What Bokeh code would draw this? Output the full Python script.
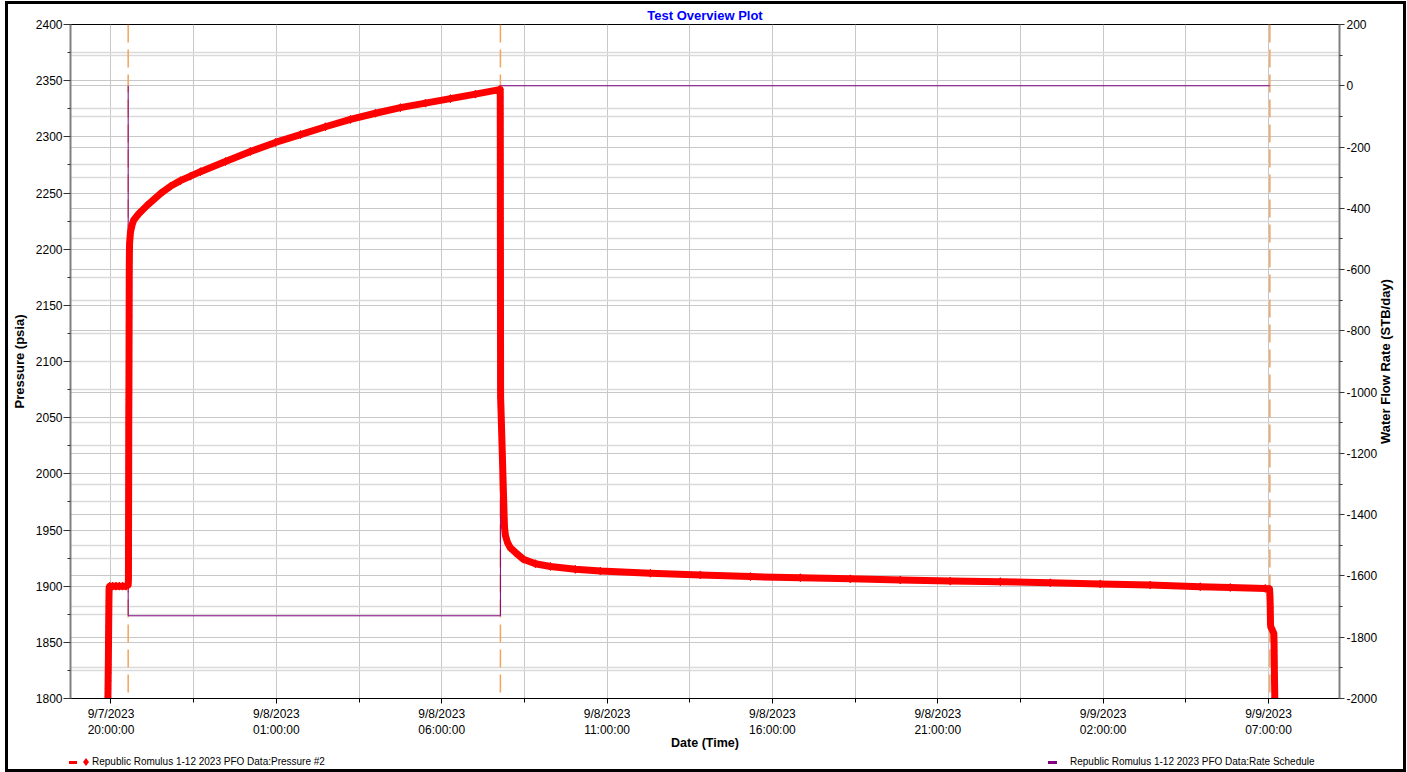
import math
from bokeh.plotting import figure
from bokeh.layouts import column
from bokeh.models import (Range1d, LinearAxis, FixedTicker, Grid, Span, Title,
                          ColumnDataSource, Div)
from bokeh.embed import file_html
from bokeh.resources import INLINE

# ---------------- data (time in hours from 9/7/2023 00:00) ----------------
# Pressure #2 (psia)
pressure_time_h = [
    # first rise
    19.905, 19.908, 19.911, 19.914, 19.917, 19.920, 19.922, 19.924, 19.926,
    19.928, 19.930, 19.932, 19.934, 19.936, 19.938, 19.940, 19.942, 19.945,
    # plateau at ~1900
    19.96, 20.05, 20.15, 20.25, 20.35, 20.45, 20.52,
    # shut-in rise
    20.528, 20.5285, 20.529, 20.5295, 20.530, 20.5305, 20.531, 20.5315, 20.532,
    20.5325, 20.533, 20.5335, 20.534, 20.5345, 20.535, 20.5355, 20.536, 20.5365,
    20.537, 20.5375, 20.538,
    20.539, 20.540, 20.541, 20.542, 20.543, 20.544, 20.545, 20.546, 20.547,
    20.548, 20.549, 20.550, 20.551, 20.552, 20.553, 20.555, 20.558, 20.562,
    # build-up
    20.589, 20.641, 20.689, 20.840, 21.094, 21.496, 21.799, 22.101, 22.403,
    22.706, 23.461, 24.217, 24.973, 25.729, 26.484, 27.240, 27.996, 28.752,
    29.508, 30.263, 31.019, 31.745,
    # drop at end of build-up
    31.770, 31.7703, 31.7706, 31.7709, 31.7712, 31.7715, 31.7718, 31.7721,
    31.7724, 31.7727, 31.7730, 31.7733, 31.7736, 31.7739, 31.7742, 31.7745,
    31.7748, 31.7751, 31.7754, 31.7757, 31.7760, 31.7763, 31.7766, 31.7769,
    31.7772, 31.7775, 31.7778, 31.7781, 31.7784, 31.7787, 31.7790, 31.7793,
    31.7796, 31.7799, 31.7802, 31.7805,
    31.79, 31.80, 31.81, 31.82, 31.83, 31.84, 31.85, 31.86, 31.87, 31.88,
    31.89, 31.90,
    # fall-off
    31.927, 31.987, 32.078, 32.229, 32.470, 32.833, 33.287, 34.042, 34.798,
    36.310, 37.821, 39.333, 40.844, 42.356, 43.867, 45.379, 46.890, 48.402,
    49.913, 51.425, 52.936, 53.843, 54.901, 55.030,
    # final drop
    55.040, 55.045, 55.050, 55.052, 55.054, 55.056, 55.058, 55.060, 55.070,
    55.100, 55.130, 55.160, 55.165, 55.168, 55.170, 55.172, 55.174, 55.176,
    55.178, 55.182, 55.186, 55.190, 55.195,
]
pressure_psia = [
    1795, 1802, 1809, 1816, 1823, 1830, 1837, 1844, 1851,
    1858, 1864, 1870, 1876, 1882, 1887, 1892, 1896, 1899,
    1900, 1900, 1900, 1900, 1900, 1900, 1901,
    1906, 1913, 1920, 1927, 1934, 1941, 1948, 1955, 1962,
    1969, 1976, 1983, 1990, 1997, 2005, 2013, 2021, 2029,
    2037, 2044, 2050,
    2055, 2060, 2066, 2072, 2080, 2090, 2100, 2110, 2120,
    2130, 2140, 2150, 2160, 2170, 2180, 2190, 2198, 2205,
    2215, 2222, 2226, 2231.5, 2239, 2249.5, 2256, 2261, 2265,
    2269, 2278, 2287, 2295, 2302, 2309, 2315.5, 2321, 2326,
    2330, 2334, 2338, 2342,
    2342, 2335, 2328, 2321, 2314, 2307, 2300, 2292,
    2284, 2276, 2268, 2260, 2252, 2244, 2236, 2228,
    2220, 2212, 2204, 2196, 2188, 2180, 2172, 2164,
    2156, 2148, 2140, 2132, 2124, 2116, 2108, 2100,
    2092, 2084, 2076, 2068,
    2060, 2050, 2040, 2030, 2020, 2010, 2000, 1990, 1980, 1970,
    1960, 1952,
    1945, 1939, 1934, 1930, 1924, 1920, 1917.5, 1915, 1913.5,
    1911.5, 1910, 1908.5, 1907.5, 1906.5, 1905.5, 1904.5, 1904, 1903,
    1902, 1901, 1899.5, 1898.8, 1898, 1897.5,
    1893, 1889, 1885, 1881, 1877, 1873, 1869, 1866, 1863.5,
    1862, 1860, 1858, 1853, 1848, 1843, 1838, 1833, 1828,
    1822, 1815, 1808, 1801, 1794,
]

# Rate schedule (STB/day)
rate_time_h = [20.52, 20.52, 31.775, 31.775, 55.04]
rate_stb_day = [0, -1730, -1730, 0, 0]

# event markers (dashed orange verticals)
event_time_h = [20.52, 31.775, 55.04]

x_tick_h = [20, 25, 30, 35, 40, 45, 50, 55]
x_tick_labels = ["9/7/2023\n20:00:00", "9/8/2023\n01:00:00", "9/8/2023\n06:00:00",
                 "9/8/2023\n11:00:00", "9/8/2023\n16:00:00", "9/8/2023\n21:00:00",
                 "9/9/2023\n02:00:00", "9/9/2023\n07:00:00"]
x_minor_h = [17.5, 22.5, 27.5, 32.5, 37.5, 42.5, 47.5, 52.5, 57.5]
p_ticks = list(range(1800, 2401, 50))
p_minor = list(range(1825, 2400, 50))
rate_ticks = list(range(-2000, 201, 200))
rate_tick_labels = ["-2000", "-1800", "-1600", "-1400", "-1200", "-1000",
                    "-800", "-600", "-400", "-200", "0", "200"]
rate_minor = list(range(-1900, 200, 200))

title_text = "Test Overview Plot"
p_label = "Pressure (psia)"
rate_label = "Water Flow Rate (STB/day)"
x_label = "Date (Time)"
p_series = "Republic Romulus 1-12 2023 PFO Data:Pressure #2"
rate_series = "Republic Romulus 1-12 2023 PFO Data:Rate Schedule"

FONT = "Liberation Sans"
RED = "#ff0000"
PURPLE = "#800080"
ORANGE = "#f2a35c"
GRID = "#c8c8c8"
GRID2 = "#dadada"

FRAME_W, FRAME_H = 1269, 674
RATE_LO, RATE_HI = -2000, 200

p = figure(frame_width=FRAME_W, frame_height=FRAME_H, output_backend="svg",
           toolbar_location=None,
           x_range=Range1d(18.776, 57.146), y_range=Range1d(1800, 2400),
           min_border_left=62, min_border_right=56, min_border_top=20,
           min_border_bottom=54,
           background_fill_color="white", border_fill_color="white",
           outline_line_color="black", outline_line_width=1)
p.title = Title(text=title_text, align="center", vertical_align="top",
                text_color="#0000ff", text_font=FONT, text_font_style="bold",
                text_font_size="13px", text_line_height=1.0, standoff=0, offset=0)
p.extra_y_ranges = {"rate": Range1d(RATE_LO, RATE_HI)}

x_ticker = FixedTicker(ticks=x_tick_h, minor_ticks=x_minor_h)
p_ticker = FixedTicker(ticks=p_ticks, minor_ticks=p_minor)
rate_ticker = FixedTicker(ticks=rate_ticks, minor_ticks=rate_minor)

# grids
p.xgrid.ticker = x_ticker
p.xgrid.grid_line_color = GRID
p.xgrid.minor_grid_line_color = GRID
p.ygrid.ticker = p_ticker
p.ygrid.grid_line_color = GRID
p.ygrid.minor_grid_line_color = GRID2
p.ygrid.minor_grid_line_width = 1.5
rgrid = Grid(dimension=1, ticker=rate_ticker, y_range_name="rate",
             grid_line_color=GRID, minor_grid_line_color=GRID2,
             minor_grid_line_width=1.5)
p.add_layout(rgrid)

# bottom axis
xa = p.xaxis[0]
xa.ticker = x_ticker
xa.major_label_overrides = {t: lab for t, lab in zip(x_tick_h, x_tick_labels)}
xa.axis_label = x_label
xa.axis_label_text_font = FONT
xa.axis_label_text_font_style = "bold"
xa.axis_label_text_font_size = "12.5px"
xa.axis_label_text_color = "black"
xa.axis_label_standoff = -4
xa.major_label_text_font = FONT
xa.major_label_text_font_size = "12px"
xa.major_label_text_color = "black"
xa.major_label_standoff = 3
xa.major_tick_out = 5
xa.major_tick_in = 0
xa.minor_tick_out = 4
xa.minor_tick_in = 0
xa.axis_line_color = "black"
xa.major_tick_line_color = "black"
xa.minor_tick_line_color = "black"

# left axis
ya = p.yaxis[0]
ya.ticker = p_ticker
ya.axis_label = p_label
ya.axis_label_text_font = FONT
ya.axis_label_text_font_style = "bold"
ya.axis_label_text_font_size = "13px"
ya.axis_label_text_color = "black"
ya.axis_label_standoff = 6
ya.major_label_text_font = FONT
ya.major_label_text_font_size = "12px"
ya.major_label_text_color = "black"
ya.major_label_standoff = 1
ya.major_tick_out = 7
ya.major_tick_in = 0
ya.minor_tick_out = 3
ya.minor_tick_in = 0
ya.axis_line_color = "#808080"
ya.axis_line_width = 2
ya.major_tick_line_color = "#333333"
ya.minor_tick_line_color = "#333333"

# right axis (rate)
ra = LinearAxis(y_range_name="rate", ticker=rate_ticker,
                major_label_text_font=FONT, major_label_text_font_size="12px",
                major_label_text_color="black", major_label_standoff=2,
                major_tick_out=5, major_tick_in=0, minor_tick_out=3, minor_tick_in=0,
                axis_line_color="#808080", axis_line_width=2,
                major_tick_line_color="#333333", minor_tick_line_color="#333333")
ra.major_label_overrides = {t: lab for t, lab in zip(rate_ticks, rate_tick_labels)}
p.add_layout(ra, "right")

# right axis title, reading bottom-to-top, centred on the axis
label_px = 165.0                       # approx. rendered length of the title
units_per_px = (RATE_HI - RATE_LO) / FRAME_H
label_anchor = (RATE_HI + RATE_LO) / 2 - label_px / 2 * units_per_px
rt = LinearAxis(y_range_name="rate", ticker=FixedTicker(ticks=[label_anchor], minor_ticks=[]),
                major_label_overrides={label_anchor: rate_label},
                major_label_orientation=math.pi / 2,
                major_label_text_font=FONT, major_label_text_font_size="13px",
                major_label_text_font_style="bold", major_label_text_color="black",
                major_label_standoff=5, major_tick_out=0, major_tick_in=0,
                minor_tick_out=0, minor_tick_in=0, axis_line_color=None,
                major_tick_line_color=None, minor_tick_line_color=None)
p.add_layout(rt, "right")

# event lines
for t in event_time_h:
    p.add_layout(Span(location=t, dimension="height", line_color=ORANGE,
                      line_width=1.5, line_dash="18 7", level="underlay"))

# rate schedule
rate_src = ColumnDataSource(dict(t=rate_time_h, r=rate_stb_day))
p.line("t", "r", source=rate_src, y_range_name="rate", line_color=PURPLE,
       line_width=1)

# pressure
src = ColumnDataSource(dict(t=pressure_time_h, p=pressure_psia))
p.line("t", "p", source=src, line_color=RED, line_width=7, line_join="round")
p.scatter("t", "p", source=src, marker="diamond", size=8, color=RED)

# ---------------- legend strip below the chart ----------------
txt = ("position:absolute;top:3px;line-height:12px;white-space:nowrap;"
       "font-family:'Liberation Sans';font-size:10px;color:#000;")
legend_html = (
    '<div style="position:relative;width:1387px;height:16px;">'
    f'<span style="position:absolute;left:61px;top:8px;width:8px;height:3px;background:{RED};"></span>'
    f'<span style="position:absolute;left:75px;top:5px;width:6px;height:8px;background:{RED};'
    'clip-path:polygon(50% 0,100% 50%,50% 100%,0 50%);"></span>'
    f'<span style="{txt}left:84px;">{p_series}</span>'
    f'<span style="position:absolute;left:1040px;top:8px;width:9px;height:3px;background:{PURPLE};"></span>'
    f'<span style="{txt}left:1062px;">{rate_series}</span>'
    '</div>'
)
strip = Div(text=legend_html, width=1387, height=16, margin=(0, 0, 0, 0))

layout = column(p, strip, spacing=0,
                styles={"margin-left": "8px", "margin-top": "4px",
                        "outline": "3px solid black"})

open("out.html", "w").write(file_html(layout, INLINE))
